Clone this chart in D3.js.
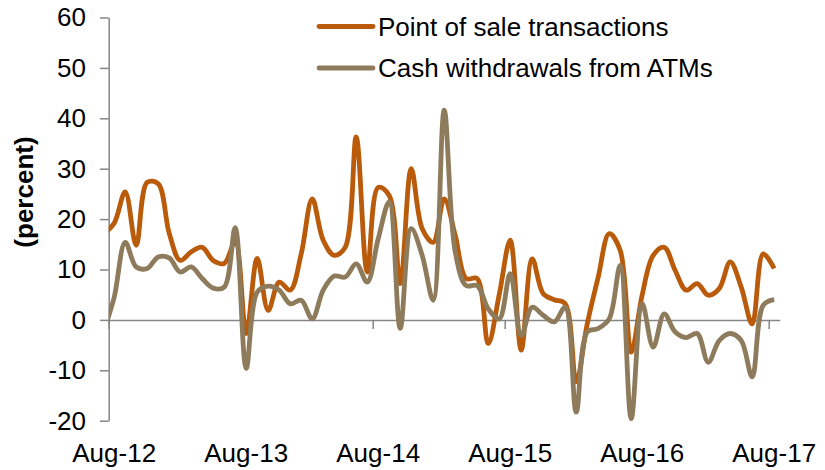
<!DOCTYPE html>
<html>
<head>
<meta charset="utf-8">
<script src="https://cdn.jsdelivr.net/npm/d3@7"></script>
<style>
  body { margin: 0; background: #fff; }
  text { font-family: 'Liberation Sans', Arial, sans-serif; fill: #000; }
</style>
</head>
<body>
<div id="chart"></div>
<script>
// Monthly series, Jul-12 .. Aug-17 (Jul-12 sits left of the axis and is clipped)
let months = ['Jul-12', 'Aug-12', 'Sep-12', 'Oct-12', 'Nov-12', 'Dec-12', 'Jan-13', 'Feb-13', 'Mar-13', 'Apr-13', 'May-13', 'Jun-13',
  'Jul-13', 'Aug-13', 'Sep-13', 'Oct-13', 'Nov-13', 'Dec-13', 'Jan-14', 'Feb-14', 'Mar-14', 'Apr-14', 'May-14', 'Jun-14',
  'Jul-14', 'Aug-14', 'Sep-14', 'Oct-14', 'Nov-14', 'Dec-14', 'Jan-15', 'Feb-15', 'Mar-15', 'Apr-15', 'May-15', 'Jun-15',
  'Jul-15', 'Aug-15', 'Sep-15', 'Oct-15', 'Nov-15', 'Dec-15', 'Jan-16', 'Feb-16', 'Mar-16', 'Apr-16', 'May-16', 'Jun-16',
  'Jul-16', 'Aug-16', 'Sep-16', 'Oct-16', 'Nov-16', 'Dec-16', 'Jan-17', 'Feb-17', 'Mar-17', 'Apr-17', 'May-17', 'Jun-17',
  'Jul-17', 'Aug-17']

let posValues = [17.0, 19.2, 25.4, 14.8, 27.3, 27.0, 17.2, 11.8, 13.5, 14.4, 11.8, 11.2,
  15.5, -2.7, 12.2, 1.9, 7.5, 5.9, 13.1, 24.0, 15.8, 12.8, 14.4, 36.3,
  9.5, 26.3, 24.7, 7.2, 30.0, 18.1, 15.4, 24.0, 16.8, 8.2, 8.2, -4.7,
  5.0, 15.8, -6.0, 12.1, 5.2, 4.0, 3.2, -12.3, -0.8, 8.5, 17.1, 13.8,
  -6.4, 5.0, 12.8, 14.4, 9.8, 5.9, 7.2, 4.9, 6.2, 11.5, 6.5, -0.8,
  13.1, 10.2]

let atmValues = [-2.5, 4.5, 15.4, 10.5, 10.2, 12.5, 12.3, 9.5, 10.5, 8.2, 6.3, 6.5,
  18.3, -9.6, 5.5, 6.7, 5.9, 3.2, 3.9, 0.2, 5.9, 8.7, 8.5, 11.1,
  7.5, 16.1, 23.4, -1.7, 18.1, 12.8, 3.9, 41.6, 13.5, 6.8, 6.8, 2.2,
  0.2, 9.2, -3.1, 2.5, 0.9, -0.4, 2.5, -18.3, -2.4, -1.7, 0.2, 10.8,
  -19.6, 3.2, -5.4, 1.2, -2.4, -3.5, -2.7, -8.4, -4.1, -2.7, -4.1, -11.3,
  2.9, 4.0]

let seriesNames = ['Point of sale transactions', 'Cash withdrawals from ATMs']
let xTickLabels = ['Aug-12', 'Aug-13', 'Aug-14', 'Aug-15', 'Aug-16', 'Aug-17']
let yTicks = [-20, -10, 0, 10, 20, 30, 40, 50, 60]

// layout
let width = 825
let height = 470
let plotLeft = 108.7
let plotRight = 779.7
let plotTop = 17.5
let plotBottom = 420.7
let colors = ['#b95b0b', '#8d7b5b']
let axisColor = '#868686'
let fontSize = 26

let svg = d3.select('#chart')
  .append('svg')
  .attr('width', width)
  .attr('height', height)

// month index: Aug-12 = 0 ... Aug-17 = 60, categories centred between ticks
let xScale = d3.scaleLinear()
  .domain([-0.5, 60.5])
  .range([plotLeft, plotRight])

let yScale = d3.scaleLinear()
  .domain([-20, 60])
  .range([plotBottom, plotTop])

// y axis (plain hyphen for negatives, like the original)
let yAxis = svg.append('g')
  .attr('transform', 'translate(' + plotLeft + ',0)')
  .call(d3.axisLeft(yScale).tickValues(yTicks).tickFormat(d => String(d))
    .tickSize(8.7).tickPadding(14).tickSizeOuter(0))
yAxis.select('.domain').attr('stroke', axisColor).attr('stroke-width', 1.5)
yAxis.selectAll('.tick line').attr('stroke', axisColor).attr('stroke-width', 1.5)
yAxis.selectAll('.tick text')
  .style('font-size', fontSize + 'px')
  .style('font-family', "'Liberation Sans', Arial, sans-serif")
  .attr('fill', '#000')

// zero line with yearly tick marks between categories
let boundaries = [-0.5, 11.5, 23.5, 35.5, 47.5, 59.5]
let xAxis = svg.append('g')
  .attr('transform', 'translate(0,' + yScale(0) + ')')
  .call(d3.axisBottom(xScale).tickValues(boundaries).tickFormat('').tickSize(9).tickSizeOuter(0))
xAxis.select('.domain').attr('stroke', axisColor).attr('stroke-width', 1.5)
xAxis.selectAll('.tick line').attr('stroke', axisColor).attr('stroke-width', 1.5)

// category labels at the bottom
svg.append('g')
  .selectAll('text')
  .data(xTickLabels)
  .enter()
  .append('text')
  .attr('x', (d, i) => xScale(i * 12))
  .attr('y', 462)
  .attr('text-anchor', 'middle')
  .style('font-size', fontSize + 'px')
  .text(d => d)

// y axis title
svg.append('text')
  .attr('transform', 'translate(33,192) rotate(-90)')
  .attr('text-anchor', 'middle')
  .style('font-size', fontSize + 'px')
  .style('font-weight', 'bold')
  .text('(percent)')

// clip lines at the y axis
svg.append('clipPath')
  .attr('id', 'plot-clip')
  .append('rect')
  .attr('x', plotLeft)
  .attr('y', 0)
  .attr('width', width - plotLeft)
  .attr('height', height)

let line = d3.line()
  .x((d, i) => xScale(i - 1))
  .y(d => yScale(d))
  .curve(d3.curveCatmullRom.alpha(0.5))

let lines = svg.append('g').attr('clip-path', 'url(#plot-clip)')

lines.append('path')
  .datum(posValues)
  .attr('fill', 'none')
  .attr('stroke', colors[0])
  .attr('stroke-width', 4.8)
  .attr('stroke-linejoin', 'round')
  .attr('d', line)

lines.append('path')
  .datum(atmValues)
  .attr('fill', 'none')
  .attr('stroke', colors[1])
  .attr('stroke-width', 4.8)
  .attr('stroke-linejoin', 'round')
  .attr('d', line)

// legend
let legend = svg.append('g')
  .selectAll('g')
  .data(seriesNames)
  .enter()
  .append('g')
  .attr('transform', (d, i) => 'translate(0,' + (26.5 + i * 41.5) + ')')

legend.append('line')
  .attr('x1', 319)
  .attr('x2', 373)
  .attr('stroke', (d, i) => colors[i])
  .attr('stroke-width', 4.8)
  .attr('stroke-linecap', 'round')

legend.append('text')
  .attr('x', 378)
  .attr('dy', '0.36em')
  .style('font-size', fontSize + 'px')
  .text(d => d)
</script>
</body>
</html>
